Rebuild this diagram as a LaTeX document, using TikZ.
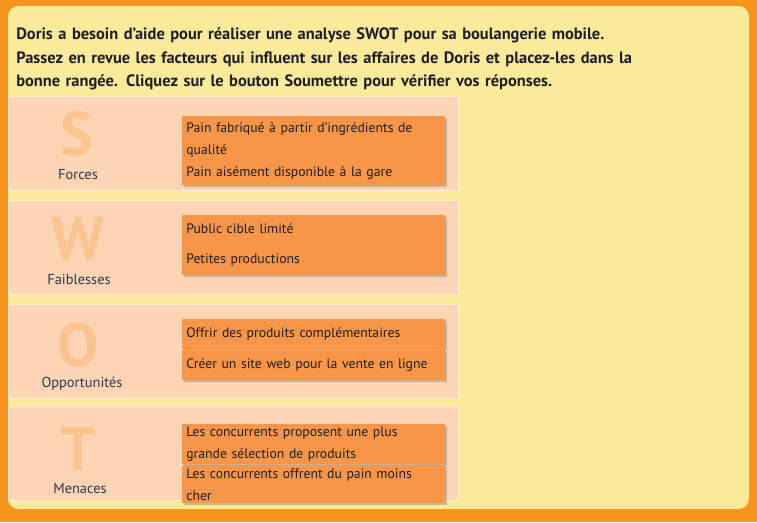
\documentclass[tikz,border=0pt]{standalone}
\usepackage{fontspec}
\setmainfont{PT Sans}
\usetikzlibrary{positioning,shadows}

\definecolor{frameorange}{HTML}{F7941D}
\definecolor{paleyellow}{HTML}{FBEA9A}
\definecolor{rowpeach}{HTML}{FCD5B4}
\definecolor{letterpeach}{HTML}{FBC38F}
\definecolor{cardorange}{HTML}{F79548}
\definecolor{inktext}{HTML}{1E1E28}
\definecolor{labelink}{HTML}{2E3752}

\begin{document}
\begin{tikzpicture}[
  x=0.02cm, y=-0.02cm,
  row/.style={rectangle, draw=white!60!rowpeach, line width=0.6pt, fill=rowpeach, anchor=north west,
    minimum width=9cm, minimum height=1.88cm, inner sep=0pt},
  bigletter/.style={text=letterpeach, font=\fontsize{35}{35}\selectfont\bfseries, inner sep=0pt},
  rowlabel/.style={text=labelink, font=\fontsize{8.2}{9}\selectfont, inner sep=0pt},
  card/.style={rectangle, fill=cardorange, anchor=north west, minimum width=5.26cm, inner sep=0pt,
    text width=5.1cm, align=left, text=inktext, font=\fontsize{7.8}{12.4}\selectfont,
    drop shadow={shadow xshift=1.2pt, shadow yshift=-1.2pt, opacity=0.35, fill=black!60}},
]
% background and panel
\fill[frameorange] (0,0) rectangle (757,522);
\fill[paleyellow, rounded corners=6pt] (8,6) rectangle (749,509);
\useasboundingbox (0,0) rectangle (757,522);

\node[anchor=north west, text width=14.4cm, align=left, text=inktext, inner sep=0pt,
  font=\fontsize{9.35}{13.6}\selectfont\bfseries] (intro) at (16,27)
  {Doris a besoin d'aide pour réaliser une analyse SWOT pour sa boulangerie mobile.\\
   Passez en revue les facteurs qui influent sur les affaires de Doris et placez-les dans la\\
   bonne rangée. Cliquez sur le bouton Soumettre pour vérifier vos réponses.};

% rows
\node[row] (rowS) at (8,96) {};
\node[row] (rowW) at (8,200) {};
\node[row] (rowO) at (8,304) {};
\node[row] (rowT) at (8,406) {};

% letters and labels
\node[bigletter] (letS) at (77,134) {S};
\node[rowlabel] (labS) at (78,175) {Forces};
\node[bigletter] (letW) at (78,239) {W};
\node[rowlabel] (labW) at (79,279) {Faiblesses};
\node[bigletter] (letO) at (78,345) {O};
\node[rowlabel] (labO) at (82,384) {Opportunités};
\node[bigletter] (letT) at (78,449) {T};
\node[rowlabel] (labT) at (80,489) {Menaces};

% cards
\node[card, minimum height=1.38cm] (cardS) at (182,116)
  {Pain fabriqué à partir d'ingrédients de\\ qualité\\ Pain aisément disponible à la gare};
\node[card, minimum height=1.2cm, font=\fontsize{7.8}{17}\selectfont] (cardW) at (182,215)
  {Public cible limité\\ Petites productions};
\node[card, minimum height=0.6cm] (cardOa) at (182,319) {Offrir des produits complémentaires};
\node[card, minimum height=0.6cm] (cardOb) at (182,350) {Créer un site web pour la vente en ligne};
\node[card, minimum height=0.8cm] (cardTa) at (182,424)
  {Les concurrents proposent une plus\\ grande sélection de produits};
\node[card, minimum height=0.76cm] (cardTb) at (182,465)
  {Les concurrents offrent du pain moins\\ cher};
\end{tikzpicture}
\end{document}
